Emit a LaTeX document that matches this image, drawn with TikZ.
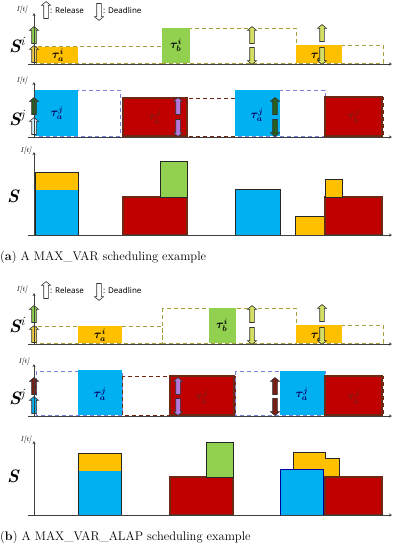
\documentclass[tikz,border=0pt]{standalone}
\usepackage{amsmath,bm}
\usepackage{fontspec}
\newfontfamily\legendfont{Noto Sans}
\usetikzlibrary{arrows.meta,shapes.arrows}

\definecolor{cOrange}{RGB}{255,192,0}
\definecolor{cGreen}{RGB}{146,208,80}
\definecolor{cBlue}{RGB}{0,176,240}
\definecolor{cRed}{RGB}{192,0,0}
\definecolor{cBrown}{RGB}{110,40,20}
\definecolor{cOlive}{RGB}{165,160,60}
\definecolor{cDashBlue}{RGB}{120,130,220}
\definecolor{cPurple}{RGB}{180,120,220}
\definecolor{cDkGreen}{RGB}{40,95,30}
\definecolor{cDkRed}{RGB}{120,30,20}
\definecolor{cYellow}{RGB}{235,205,70}
\definecolor{cLime}{RGB}{212,222,100}
\definecolor{cPale}{RGB}{215,240,250}

\begin{document}
\begin{tikzpicture}[
    x=1pt, y=-1pt,
    win/.style={dash pattern=on 4pt off 3pt, line width=0.9pt},
    oliwin/.style={win, draw=cOlive},
    bluwin/.style={win, draw=cDashBlue},
    redwin/.style={win, draw=cBrown},
    sbox/.style={draw=black!85, line width=0.9pt},
    rbox/.style={fill=cRed, draw=cBrown, line width=1.2pt},
    axis/.style={-{Stealth[length=3pt,width=3pt]}, line width=0.7pt, draw=black!75},
    itlabel/.style={font=\scriptsize\itshape, inner sep=1pt},
    rowlabel/.style={font=\fontsize{18}{18}\selectfont\bfseries\itshape, inner sep=0pt},
    tlabel/.style={font=\large, inner sep=0pt},
    legtext/.style={font=\legendfont\bfseries\fontsize{8}{9}\selectfont, anchor=west, inner sep=0pt},
    arrbase/.style={single arrow, draw=black!80, line width=0.6pt,
        minimum height=17pt, inner xsep=0pt, inner ysep=2pt,
        single arrow head extend=2.2pt, single arrow tip angle=100},
    uparr/.style={arrbase, rotate=90},
    dnarr/.style={arrbase, rotate=-90},
    caption/.style={font=\fontsize{12.5}{14}\selectfont, anchor=west, inner sep=0pt}
]
\useasboundingbox (0,0) rectangle (393,550);

% ---------------- (a) ----------------
% Legend
\node[itlabel] (ia) at (22,10) {I[t]};
\node[uparr, fill=white] (rela) at (46,11) {};
\node[legtext] (relta) at (50,11) {: Release};
\node[dnarr, fill=white] (dla) at (99,11) {};
\node[legtext] (dlta) at (103,11) {: Deadline};

% Row S^i
\draw[oliwin] (36,46) rectangle (162,63);
\draw[oliwin] (162,28) rectangle (296,63);
\draw[oliwin] (296,45) rectangle (383,63);
\fill[cOrange] (36,47) rectangle (78,63);
\fill[cGreen] (162,28) rectangle (190,63);
\fill[cOrange] (296,45) rectangle (342,63);
\node[tlabel] (tai1) at (58,55) {$\bm{\tau_a^i}$};
\node[tlabel] (tbi1) at (176,45) {$\bm{\tau_b^i}$};
\node[tlabel] (tai2) at (317,55) {$\bm{\tau_a^i}$};
\node[uparr, fill=cGreen] at (34,36) {};
\node[uparr, fill=cYellow] at (34,55) {};
\node[uparr, fill=cLime] at (252,36) {};
\node[dnarr, fill=cLime] at (252,55) {};
\node[uparr, fill=cLime] at (322,34) {};
\node[dnarr, fill=cLime] at (322,55) {};
\draw[axis] (34,64) -- (34,13);
\draw[axis] (28,64) -- (392,64);
\node[rowlabel] (sia) at (17,45) {S\textsuperscript{\mdseries i}};

% Row S^j
\node[itlabel] (ija) at (22,81) {I[t]};
\draw[bluwin] (36,90) rectangle (120,136);
\draw[redwin] (122,98) rectangle (235,136);
\draw[bluwin] (235,90) rectangle (325,136);
\draw[redwin] (325,97) rectangle (383,136);
\fill[cBlue] (35,90) rectangle (78,136);
\draw[rbox] (123,98) rectangle (187,136);
\fill[cBlue] (235,90) rectangle (280,136);
\draw[rbox] (325,97) rectangle (382,136);
\node[tlabel, text=blue!40!black] (taj1) at (57,113) {$\bm{\tau_a^j}$};
\node[tlabel, text=cDkRed] (tbj1) at (155,117) {$\bm{\tau_b^j}$};
\node[tlabel, text=blue!40!black] (taj2) at (257,115) {$\bm{\tau_a^j}$};
\node[tlabel, text=cDkRed] (tbj2) at (354,116) {$\bm{\tau_b^j}$};
\node[uparr, fill=cDkGreen] at (34,107) {};
\node[uparr, fill=cPale] at (34,127) {};
\node[uparr, fill=cPurple] at (178,107) {};
\node[dnarr, fill=cPurple] at (178,127) {};
\node[uparr, fill=cDkGreen] at (275,107) {};
\node[dnarr, fill=cDkGreen] at (275,127) {};
\draw[axis] (34,137) -- (34,82);
\draw[axis] (28,137) -- (392,137);
\node[rowlabel] (sja) at (17,118) {S\textsuperscript{\mdseries j}};

% Row S
\node[itlabel] (isa) at (26,151) {I[t]};
\fill[cBlue] (35,190) rectangle (78,235);
\fill[cOrange] (35,172) rectangle (78,190);
\draw[sbox] (35,172) rectangle (78,235);
\draw[rbox] (123,197) rectangle (187,235);
\draw[sbox, fill=cGreen] (160,161) rectangle (187,197);
\draw[sbox, fill=cBlue] (235,189) rectangle (280,235);
\draw[sbox, fill=cOrange] (295,216) rectangle (325,235);
\draw[rbox] (325,197) rectangle (382,235);
\draw[sbox, fill=cOrange] (325,179) rectangle (342,197);
\draw[axis] (34,235) -- (34,152);
\draw[axis] (28,235) -- (392,235);
\node[rowlabel] (ssa) at (13,196) {S};

\node[caption] (capa) at (0,257) {(\textbf{a}) A MAX\_VAR scheduling example};

% ---------------- (b) ----------------
% Legend
\node[itlabel] (ib) at (22,290) {I[t]};
\node[uparr, fill=white] (relb) at (46,291) {};
\node[legtext] (reltb) at (50,291) {: Release};
\node[dnarr, fill=white] (dlb) at (99,291) {};
\node[legtext] (dltb) at (103,291) {: Deadline};

% Row S^i
\draw[oliwin] (36,326) rectangle (162,343);
\draw[oliwin] (162,308) rectangle (296,343);
\draw[oliwin] (296,325) rectangle (383,343);
\fill[cOrange] (78,326) rectangle (122,343);
\fill[cGreen] (209,308) rectangle (236,343);
\fill[cOrange] (296,325) rectangle (342,343);
\node[tlabel] (tai3) at (100,335) {$\bm{\tau_a^i}$};
\node[tlabel] (tbi2) at (222,325) {$\bm{\tau_b^i}$};
\node[tlabel] (tai4) at (317,335) {$\bm{\tau_a^i}$};
\node[uparr, fill=cGreen] at (34,315) {};
\node[uparr, fill=cYellow] at (34,335) {};
\node[uparr, fill=cLime] at (252,315) {};
\node[dnarr, fill=cLime] at (252,335) {};
\node[uparr, fill=cLime] at (322,314) {};
\node[dnarr, fill=cLime] at (322,335) {};
\draw[axis] (34,344) -- (34,293);
\draw[axis] (28,344) -- (392,344);
\node[rowlabel] (sib) at (17,325) {S\textsuperscript{\mdseries i}};

% Row S^j
\node[itlabel] (ijb) at (24,362) {I[t]};
\draw[bluwin] (36,371) rectangle (122,415);
\draw[redwin] (122,376) rectangle (235,415);
\draw[bluwin] (235,371) rectangle (325,415);
\draw[redwin] (325,376) rectangle (383,415);
\fill[cBlue] (78,370) rectangle (122,415);
\draw[rbox] (170,376) rectangle (234,415);
\fill[cBlue] (280,371) rectangle (325,415);
\draw[rbox] (325,376) rectangle (382,415);
\node[tlabel, text=blue!40!black] (taj3) at (100,394) {$\bm{\tau_a^j}$};
\node[tlabel, text=cDkRed] (tbj3) at (202,397) {$\bm{\tau_b^j}$};
\node[tlabel, text=blue!40!black] (taj4) at (302,394) {$\bm{\tau_a^j}$};
\node[tlabel, text=cDkRed] (tbj4) at (354,397) {$\bm{\tau_b^j}$};
\node[uparr, fill=cDkRed] at (34,387) {};
\node[uparr, fill=cBlue] at (34,406) {};
\node[uparr, fill=cPurple] at (178,387) {};
\node[dnarr, fill=cPurple] at (178,406) {};
\node[uparr, fill=cDkRed] at (275,387) {};
\node[dnarr, fill=cDkRed] at (275,406) {};
\draw[axis] (34,416) -- (34,364);
\draw[axis] (28,416) -- (392,416);
\node[rowlabel] (sjb) at (17,397) {S\textsuperscript{\mdseries j}};

% Row S
\node[itlabel] (isb) at (26,440) {I[t]};
\fill[cBlue] (78,471) rectangle (121,515);
\fill[cOrange] (78,453) rectangle (121,471);
\draw[sbox] (78,453) rectangle (121,515);
\draw[rbox] (170,477) rectangle (233,515);
\draw[sbox, fill=cGreen] (206,442) rectangle (233,477);
\draw[sbox, fill=cOrange] (293,452) -- (325,452) -- (325,458) -- (339,458) -- (339,477) -- (293,477) -- cycle;
\draw[rbox] (325,477) rectangle (382,515);
\draw[sbox, draw=blue!60!black, fill=cBlue] (280,469) rectangle (323,515);
\draw[axis] (34,515) -- (34,441);
\draw[axis] (28,515) -- (392,515);
\node[rowlabel] (ssb) at (13,476) {S};

\node[caption] (capb) at (0,537) {(\textbf{b}) A MAX\_VAR\_ALAP scheduling example};

\end{tikzpicture}
\end{document}
